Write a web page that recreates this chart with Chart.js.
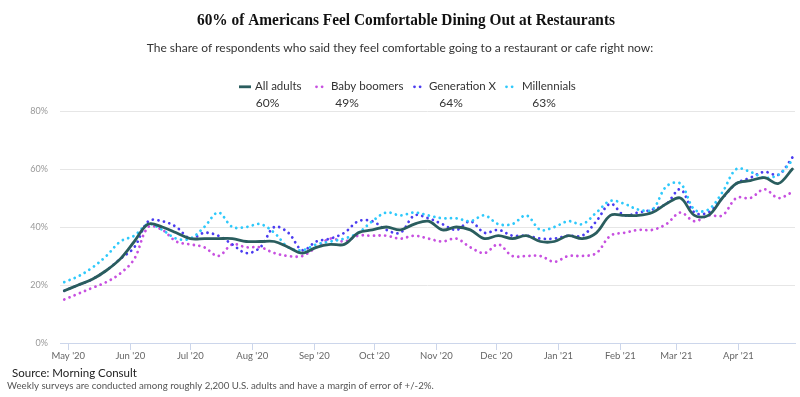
<!DOCTYPE html>
<html>
<head>
<meta charset="utf-8">
<script src="https://cdn.jsdelivr.net/npm/chart.js@4/dist/chart.umd.min.js"></script>
<style>
  html, body { margin: 0; padding: 0; background: #fff; }
  #wrap { width: 800px; height: 397px; position: relative; }
</style>
</head>
<body>
<div id="wrap"><canvas id="c" width="800" height="397"></canvas></div>
<script>
// ---------- DATA ----------
const weekDates = [
  '2020-04-29','2020-05-06','2020-05-13','2020-05-20','2020-05-27',
  '2020-06-03','2020-06-10','2020-06-17','2020-06-24',
  '2020-07-01','2020-07-08','2020-07-15','2020-07-22','2020-07-29',
  '2020-08-05','2020-08-12','2020-08-19','2020-08-26',
  '2020-09-02','2020-09-09','2020-09-16','2020-09-23','2020-09-30',
  '2020-10-07','2020-10-14','2020-10-21','2020-10-28',
  '2020-11-04','2020-11-11','2020-11-18','2020-11-25',
  '2020-12-02','2020-12-09','2020-12-16','2020-12-23','2020-12-30',
  '2021-01-06','2021-01-13','2021-01-20','2021-01-27',
  '2021-02-03','2021-02-10','2021-02-17','2021-02-24',
  '2021-03-03','2021-03-10','2021-03-17','2021-03-24','2021-03-31',
  '2021-04-07','2021-04-14','2021-04-21','2021-04-28'
];
const allAdults = [18,20,22,25,29,35,41,40,38,36,36,36,36,35,35,35,33,31,33,34,34,38,39,40,39,41,42,39,40,39,36,37,36,37,35,35,37,36,38,44,44,44,45,48,50,44,44,50,55,56,57,55,60];
const babyBoomers = [15,17,19,21,24,29,40,39,35,34,33,30,34,33,33,31,30,30,33,36,35,37,37,37,36,37,36,35,36,33,31,34,30,30,30,28,30,30,31,37,38,39,39,41,45,42,44,44,50,50,53,50,52];
const generationX = [18,20,22,25,29,33,42,42,40,36,38,37,34,31,33,40,38,32,35,36,38,42,42,39,38,44,43,41,39,42,38,39,37,37,36,36,37,37,42,48,44,45,46,48,53,45,45,50,55,57,59,58,64];
const millennials = [21,23,26,30,35,37,41,39,36,36,40,45,40,40,41,38,33,32,34,35,36,38,42,45,44,45,44,43,43,42,44,41,41,44,39,40,42,41,45,49,48,46,46,54,55,46,46,52,60,59,57,58,63];
const seriesNames = ['All adults','Baby boomers','Generation X','Millennials'];
const latestValues = ['60%','49%','64%','63%'];
const monthTickDates = ['2020-05-01','2020-06-01','2020-07-01','2020-08-01','2020-09-01','2020-10-01','2020-11-01','2020-12-01','2021-01-01','2021-02-01','2021-03-01','2021-04-01'];
const monthTickLabels = ["May '20","Jun '20","Jul '20","Aug '20","Sep '20","Oct '20","Nov '20","Dec '20","Jan '21","Feb '21","Mar '21","Apr '21"];
const yTicks = [0,20,40,60,80];

const titleText = '60% of Americans Feel Comfortable Dining Out at Restaurants';
const subtitleText = 'The share of respondents who said they feel comfortable going to a restaurant or cafe right now:';
const sourceText = 'Source: Morning Consult';
const noteText = 'Weekly surveys are conducted among roughly 2,200 U.S. adults and have a margin of error of +/-2%.';

// ---------- helpers ----------
const ORIGIN = Date.UTC(2020,4,1);
const dayOf = s => { const p = s.split('-').map(Number); return (Date.UTC(p[0],p[1]-1,p[2]) - ORIGIN)/86400000; };
const xDays = weekDates.map(dayOf);
const tickDays = monthTickDates.map(dayOf);
const pts = arr => arr.map((v,i) => ({x: xDays[i], y: v}));

const colors = ['#2a5d5e','#c750e0','#4b3cf0','#2ec9fb'];
const DOT = [0.01, 5.6];
const styles = [
  {dash: [], width: 2.8},
  {dash: DOT, width: 2.8},
  {dash: DOT, width: 2.8},
  {dash: DOT, width: 2.8}
];

const FONT = 'Lato, "Open Sans", sans-serif';

const decor = {
  id: 'decor',
  afterDraw(chart) {
    const ctx = chart.ctx;
    ctx.save();
    // title (slightly condensed serif to mimic the original face)
    ctx.fillStyle = '#111';
    ctx.textAlign = 'center';
    ctx.textBaseline = 'middle';
    ctx.font = 'bold 17px "Liberation Serif", serif';
    const tw = ctx.measureText(titleText).width;
    const sx = Math.min(1, 418 / tw);
    ctx.save();
    ctx.translate(406, 21);
    ctx.scale(sx, 1);
    ctx.fillText(titleText, 0, 0);
    ctx.restore();
    // subtitle
    ctx.fillStyle = '#333';
    ctx.font = '12px ' + FONT;
    ctx.fillText(subtitleText, 400, 48);
    // legend
    const items = [
      {sx: 239, tx: 255, vx: 267.5},
      {sx: 315, tx: 331, vx: 347},
      {sx: 413, tx: 429, vx: 451},
      {sx: 505, tx: 522, vx: 544}
    ];
    items.forEach((it, i) => {
      ctx.beginPath();
      ctx.strokeStyle = colors[i];
      ctx.lineWidth = 2.8;
      ctx.lineCap = i === 0 ? 'butt' : 'round';
      ctx.setLineDash(styles[i].dash);
      ctx.moveTo(it.sx + (i===0?0:1.5), 86.8);
      ctx.lineTo(it.sx + 12, 86.8);
      ctx.stroke();
      ctx.setLineDash([]);
      ctx.fillStyle = '#333';
      ctx.textAlign = 'left';
      ctx.font = '11.5px ' + FONT;
      ctx.fillText(seriesNames[i], it.tx, 86.5);
      ctx.textAlign = 'center';
      ctx.font = '12px ' + FONT;
      ctx.fillText(latestValues[i], it.vx, 103);
    });
    // footer
    ctx.textAlign = 'left';
    ctx.fillStyle = '#222';
    ctx.font = '11.5px ' + FONT;
    ctx.fillText(sourceText, 12, 373);
    ctx.fillStyle = '#555';
    ctx.font = '9.7px ' + FONT;
    ctx.fillText(noteText, 7, 386);
    ctx.restore();
  }
};

new Chart(document.getElementById('c'), {
  type: 'line',
  data: {
    datasets: [allAdults, babyBoomers, generationX, millennials].map((arr, i) => ({
      label: seriesNames[i],
      data: pts(arr),
      borderColor: colors[i],
      borderWidth: styles[i].width,
      borderDash: styles[i].dash,
      borderCapStyle: 'round',
      borderJoinStyle: 'round',
      pointRadius: 0,
      pointHoverRadius: 0,
      tension: 0.35,
      fill: false,
      order: i === 0 ? 0 : 4 - i
    }))
  },
  options: {
    responsive: false,
    animation: false,
    events: [],
    layout: { padding: { top: 111, bottom: 34, left: 0, right: 5 } },
    plugins: { legend: { display: false }, title: { display: false }, tooltip: { enabled: false } },
    scales: {
      x: {
        type: 'linear',
        min: -4.15,
        max: 363.3,
        afterBuildTicks: axis => { axis.ticks = tickDays.map(v => ({value: v})); },
        afterFit: axis => { axis.height = 20; },
        ticks: {
          autoSkip: false, maxRotation: 0, padding: 0,
          color: '#666', font: { family: FONT, size: 9.5 },
          callback: (v) => { const k = tickDays.indexOf(v); return k >= 0 ? monthTickLabels[k] : ''; }
        },
        grid: { display: true, drawOnChartArea: false, drawTicks: true, tickLength: 7, color: '#ccd6eb', lineWidth: 1 },
        border: { display: true, color: '#ccd6eb', width: 1 }
      },
      y: {
        min: 0, max: 80,
        afterBuildTicks: axis => { axis.ticks = yTicks.map(v => ({value: v})); },
        afterFit: axis => { axis.width = 60; },
        ticks: { padding: 12, color: '#999', font: { family: FONT, size: 9 }, callback: v => v + '%' },
        grid: { color: '#e6e6e6', lineWidth: 1, drawTicks: false },
        border: { display: false }
      }
    }
  },
  plugins: [decor]
});
</script>
</body>
</html>
